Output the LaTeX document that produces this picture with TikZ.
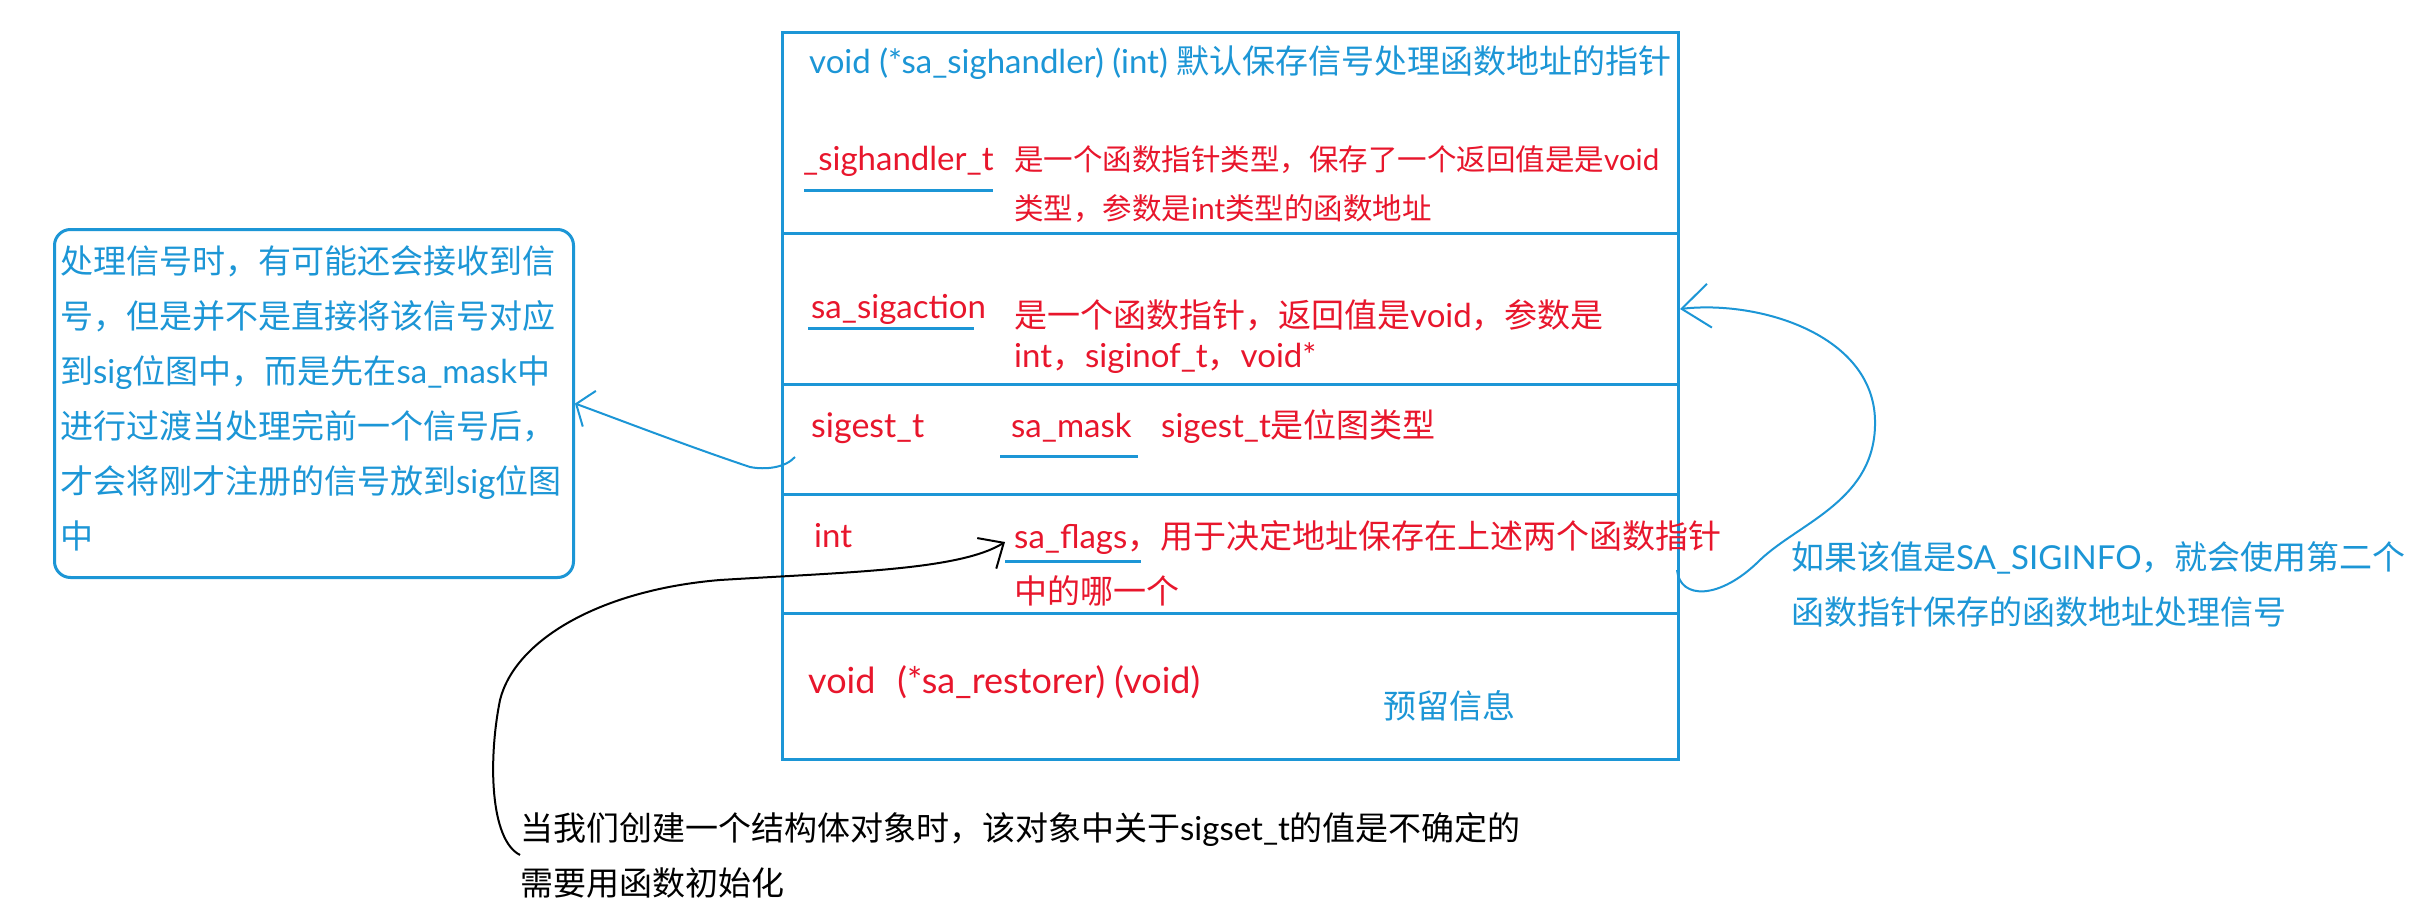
\documentclass[tikz,border=0pt]{standalone}
\usepackage{fontspec}
\setmainfont{Lato}
\newfontfamily\cjkfont{Noto Sans CJK SC}
\XeTeXinterchartokenstate=1
\newXeTeXintercharclass\CJKclass
\count255="3000
\loop\XeTeXcharclass\count255=\CJKclass\relax\ifnum\count255<"9FFF\advance\count255 by 1\relax\repeat
\count255="FF00
\loop\XeTeXcharclass\count255=\CJKclass\relax\ifnum\count255<"FFEF\advance\count255 by 1\relax\repeat
\XeTeXinterchartoks 0 \CJKclass = {\begingroup\cjkfont}
\XeTeXinterchartoks 4095 \CJKclass = {\begingroup\cjkfont}
\XeTeXinterchartoks \CJKclass 0 = {\endgroup}
\XeTeXinterchartoks \CJKclass 4095 = {\endgroup}
\usetikzlibrary{arrows.meta,calc}
\definecolor{cblue}{RGB}{28,150,214}
\definecolor{cred}{RGB}{232,22,44}
\begin{document}
\begin{tikzpicture}[x=1pt,y=-1pt,
  cell/.style={draw=cblue, line width=3pt, minimum width=896pt, inner sep=0pt, anchor=north west},
  txt/.style={inner sep=0pt, anchor=base west, align=left, font=\fontsize{33}{55}\selectfont},
  bluetxt/.style={txt, text=cblue},
  redtxt/.style={txt, text=cred},
  uline/.style={draw=cblue, line width=3pt},
  bluearrow/.style={draw=cblue, line width=2pt},
  blackarrow/.style={draw=black, line width=2pt}]
\useasboundingbox (0,0) rectangle (2429,923);
\fill[white] (0,0) rectangle (2429,923);
% struct box cells
\node[cell, minimum height=201pt] (c1) at (781,31) {};
\node[cell, minimum height=151pt] (c2) at (781,232) {};
\node[cell, minimum height=110pt] (c3) at (781,383) {};
\node[cell, minimum height=119pt] (c4) at (781,493) {};
\node[cell, minimum height=146pt] (c5) at (781,612) {};
% texts in box (base anchor = baseline of last line)
\node[bluetxt] (t1) at (809,74) {void (*sa\_sighandler) (int) 默认保存信号处理函数地址的指针};
\node[redtxt] (t2a) at (803,171) {\_sighandler\_t};
\node[redtxt, font=\fontsize{29.5}{49}\selectfont] (t2b) at (1014,219) {是一个函数指针类型，保存了一个返回值是是void\\类型，参数是int类型的函数地址};
\node[redtxt] (t3a) at (811,318) {sa\_sigaction};
\node[redtxt, font=\fontsize{33}{40}\selectfont] (t3b) at (1014,367) {是一个函数指针，返回值是void，参数是\\int，siginof\_t，void*};
\node[redtxt, font=\fontsize{34}{55}\selectfont] (t4a) at (811,437) {sigest\_t};
\node[redtxt] (t4b) at (1011,437) {sa\_mask};
\node[redtxt] (t4c) at (1161,437) {sigest\_t是位图类型};
\node[redtxt] (t5a) at (814,547) {int};
\node[redtxt, font=\fontsize{33}{55}\selectfont] (t5b) at (1014,603) {sa\_flags，用于决定地址保存在上述两个函数指针\\中的哪一个};
\node[redtxt, font=\fontsize{36}{55}\selectfont] (t6a) at (808,693) {void\hspace{22pt}(*sa\_restorer) (void)};
\node[bluetxt] (t6b) at (1383,718) {预留信息};
% underlines
\draw[uline] (804,190) -- (993,190);
\draw[uline] (808,328) -- (974,328);
\draw[uline] (1000,456) -- (1138,456);
\draw[uline] (1005,561) -- (1141,561);
% left note
\node[draw=cblue, line width=3pt, rounded corners=16pt, minimum width=519pt, minimum height=348pt, anchor=north west, inner sep=0pt] (lbox) at (53,228) {};
\node[bluetxt] (ltext) at (60,548) {处理信号时，有可能还会接收到信\\号，但是并不是直接将该信号对应\\到sig位图中，而是先在sa\_mask中\\进行过渡当处理完前一个信号后，\\才会将刚才注册的信号放到sig位图\\中};
% right note
\node[bluetxt] (rtext) at (1791,624) {如果该值是SA\_SIGINFO，就会使用第二个\\函数指针保存的函数地址处理信号};
% bottom note
\node[txt] (btext) at (520,895) {当我们创建一个结构体对象时，该对象中关于sigset\_t的值是不确定的\\需要用函数初始化};
% connectors
\coordinate (aStart) at (795,457);
\coordinate (bStart) at (1677,570);
\coordinate (flagsTip) at (1005,542);
\draw[bluearrow, -{Straight Barb[length=14pt,width=38pt,line width=2pt]}]
  (aStart) .. controls (785,468) and (765,470) .. (750,467)
  .. controls (690,447) and (620,420) .. (lbox.east);
\draw[bluearrow, -{Straight Barb[length=28pt,width=44pt,line width=2pt]}]
  (bStart) .. controls (1680,600) and (1720,600) .. (1760,560)
  .. controls (1800,522) and (1877,500) .. (1875,420)
  .. controls (1873,335) and (1760,300) .. (c2.east);
\draw[blackarrow, -{Straight Barb[length=20pt,width=36pt,line width=2pt]}]
  (btext.west) .. controls (490,840) and (488,760) .. (500,700)
  .. controls (515,640) and (600,590) .. (720,580)
  .. controls (850,572) and (960,570) .. (flagsTip);
\end{tikzpicture}
\end{document}
